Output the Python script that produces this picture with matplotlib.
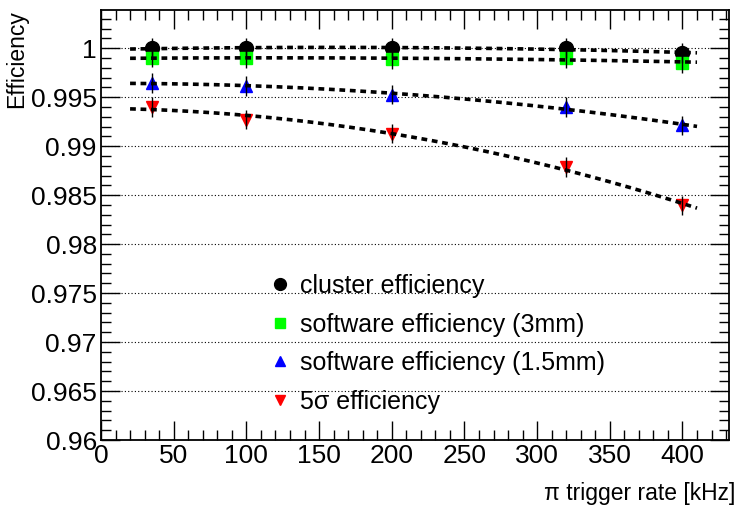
import numpy as np
import matplotlib
matplotlib.use("Agg")
import matplotlib.pyplot as plt
from matplotlib.lines import Line2D
from matplotlib.ticker import MultipleLocator, FuncFormatter

plt.rcParams['font.family'] = ['Liberation Sans', 'DejaVu Sans']

# trigger rates [kHz]
rate = np.array([35, 100, 200, 320, 400])

# measured efficiencies per method
eff_cluster = np.array([1.0, 1.0, 1.0, 1.0, 0.9995])
eff_sw_3mm = np.array([0.99905, 0.99895, 0.99888, 0.99901, 0.9985])
eff_sw_15mm = np.array([0.99646, 0.99612, 0.99527, 0.99401, 0.99211])
eff_5sigma = np.array([0.9940, 0.99272, 0.99129, 0.98789, 0.98395])
eff_err = np.array([0.001, 0.001, 0.001, 0.001, 0.001])

labels = ["cluster efficiency", "software efficiency (3mm)",
          "software efficiency (1.5mm)", "5σ efficiency"]

series = [
    (eff_cluster, 'o', '#000000', 10),
    (eff_sw_3mm, 's', '#00ff00', 9),
    (eff_sw_15mm, '^', '#0000ff', 9),
    (eff_5sigma, 'v', '#ff0000', 9),
]

fig = plt.figure(figsize=(7.37, 5.09), dpi=100)
ax = fig.add_axes([101 / 737, 1 - 440 / 509, 628 / 737, 430 / 509])

xfit = np.linspace(20, 410, 200)
handles = []
for (vals, mk, col, ms), lab in zip(series, labels):
    ax.plot(rate, vals, ls='none', marker=mk, color=col, ms=ms, mec=col, zorder=3)
    ax.errorbar(rate, vals, yerr=eff_err, fmt='none', ecolor='black',
                elinewidth=1, capsize=0, zorder=4)
    # second order polynomial fit
    coef = np.polyfit(rate, vals, 2)
    ax.plot(xfit, np.polyval(coef, xfit), color='black', lw=2.6,
            ls=(0, (1.6, 1.3)), zorder=5)
    handles.append(Line2D([], [], ls='none', marker=mk, color=col, mec=col,
                          ms=ms - 1.5, label=lab))

ax.set_xlim(0, 432)
ax.set_ylim(0.96, 1.0039)

ax.xaxis.set_major_locator(MultipleLocator(50))
ax.xaxis.set_minor_locator(MultipleLocator(10))
ax.yaxis.set_major_locator(MultipleLocator(0.005))
ax.yaxis.set_minor_locator(MultipleLocator(0.001))
ax.yaxis.set_major_formatter(FuncFormatter(
    lambda v, p: ('%.3f' % v).rstrip('0').rstrip('.')))

ax.tick_params(which='both', direction='in', top=True, right=True,
               labelsize=19, width=1, color='black')
ax.tick_params(which='major', length=14, pad=3)
ax.tick_params(which='minor', length=7)
for s in ax.spines.values():
    s.set_linewidth(1.3)

ax.yaxis.grid(True, which='major', ls=(0, (1, 2)), color='black', lw=0.8)
ax.set_axisbelow(True)

ax.set_xlabel("π trigger rate [kHz]", fontsize=16.5, loc='right')
ax.xaxis.set_label_coords(1.0096, -0.098)
ax.set_ylabel("Efficiency", fontsize=16.5, loc='top', labelpad=2)

ax.legend(handles=handles, loc='upper left', bbox_to_anchor=(0.229, 0.438),
          frameon=False, fontsize=18, handletextpad=0.3, labelspacing=0.58,
          handlelength=1.0)

fig.savefig("out.png", dpi=100)
